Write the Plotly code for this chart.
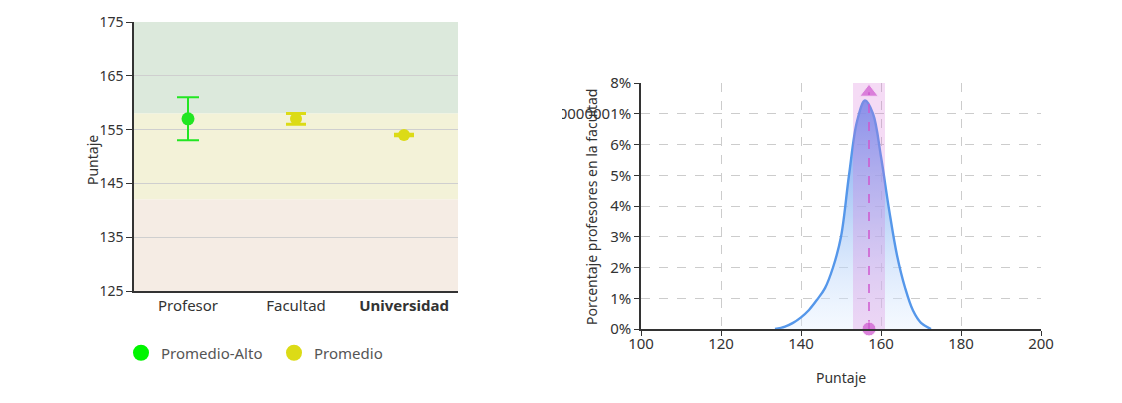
import plotly.graph_objects as go

# ---- datos panel izquierdo ----
cat_alto = ['Profesor']
val_alto = [157]
err_alto_sup = [4]
err_alto_inf = [4]

cat_prom = ['Facultad', 'Universidad']
val_prom = [157, 154]
err_prom_sup = [1, 0.15]
err_prom_inf = [1, 0.15]

categorias = ['Profesor', 'Facultad', 'Universidad']
bandas_y0 = [158, 142, 125]
bandas_y1 = [175, 158, 142]
bandas_color = ['#dce9dc', '#f3f2d8', '#f5ece4']

# ---- datos panel derecho ----
puntaje = [133.5, 136, 138, 140, 142, 144, 146, 148, 150, 152, 154, 156,
           158, 160, 162, 164, 166, 168, 170, 172.5]
porcentaje = [0, 0.08, 0.2, 0.38, 0.62, 0.95, 1.33, 2.0, 3.0, 5.0, 6.75, 7.43,
              7.0, 5.6, 3.9, 2.4, 1.35, 0.6, 0.2, 0]
intervalo = [153, 161]
prof_x = [157, 157]
prof_y = [0, 7.7]
y_ticks = [0, 1, 2, 3, 4, 5, 6, 7, 8]
y_ticktext = ['0%', '1%', '2%', '3%', '4%', '5%', '6%', '7.000000000000001%', '8%']

# la pagina tiene 8px de margen, se descuenta
OFF = 8
W, H = 1122 - 2 * OFF, 403 - 2 * OFF


def px(x):
    return (x - OFF) / W


def py(y):
    return 1 - (y - OFF) / H


verde = '#22e622'
amarillo = '#dcdb16'
magenta = '#cc4fcc'
fuente = 'Noto Sans'

fig = go.Figure()

fig.add_trace(go.Scatter(
    x=cat_alto, y=val_alto, mode='markers', showlegend=False,
    marker=dict(color=verde, size=13),
    error_y=dict(type='data', symmetric=False, array=err_alto_sup,
                 arrayminus=err_alto_inf, color=verde, thickness=2, width=11),
    xaxis='x', yaxis='y'))
fig.add_trace(go.Scatter(
    x=cat_prom, y=val_prom, mode='markers', showlegend=False,
    marker=dict(color=amarillo, size=12),
    error_y=dict(type='data', symmetric=False, array=err_prom_sup,
                 arrayminus=err_prom_inf, color=amarillo, thickness=3, width=10),
    xaxis='x', yaxis='y'))
# entradas de leyenda
fig.add_trace(go.Scatter(x=[None], y=[None], mode='markers', name='Promedio-Alto',
                         marker=dict(color='#00f500', size=17), xaxis='x', yaxis='y'))
fig.add_trace(go.Scatter(x=[None], y=[None], mode='markers', name='Promedio',
                         marker=dict(color=amarillo, size=17), xaxis='x', yaxis='y'))

# curva de densidad
fig.add_trace(go.Scatter(
    x=puntaje, y=porcentaje, mode='lines', showlegend=False,
    line=dict(color='#5597ea', width=2.4, shape='spline', smoothing=1.0),
    fill='tozeroy',
    fillgradient=dict(type='vertical',
                      colorscale=[[0, 'rgba(225,238,255,0.35)'],
                                  [0.5, 'rgba(160,195,245,0.7)'],
                                  [1, 'rgba(95,145,238,0.9)']]),
    xaxis='x2', yaxis='y2'))
fig.add_trace(go.Scatter(
    x=prof_x, y=prof_y, mode='lines+markers', showlegend=False,
    line=dict(color=magenta, width=1.5, dash='dash'),
    marker=dict(color=magenta, size=[14, 16], symbol=['circle', 'triangle-up']),
    cliponaxis=False,
    xaxis='x2', yaxis='y2'))

shapes = []
for y0, y1, c in zip(bandas_y0, bandas_y1, bandas_color):
    shapes.append(dict(type='rect', xref='x domain', yref='y', x0=0, x1=1,
                       y0=y0, y1=y1, fillcolor=c, line_width=0, layer='below'))
shapes.append(dict(type='rect', xref='x2', yref='y2 domain', x0=intervalo[0],
                   x1=intervalo[1], y0=0, y1=1, fillcolor='rgba(215,110,215,0.25)',
                   line_width=0, layer='above'))
# recorte de la etiqueta desbordada
shapes.append(dict(type='rect', xref='paper', yref='paper', x0=px(470), x1=px(562),
                   y0=py(130), y1=py(100), fillcolor='white', line_width=0,
                   layer='above'))

eje = dict(color='#333', size=14, family=fuente)
eje15 = dict(color='#333', size=15, family=fuente)

fig.update_layout(
    width=W, height=H,
    margin=dict(l=0, r=0, t=0, b=0, autoexpand=False),
    plot_bgcolor='white', paper_bgcolor='white',
    font=dict(family=fuente, color='#333', size=14),
    shapes=shapes,
    xaxis=dict(domain=[px(134), px(458)], type='category',
               categoryarray=categorias, range=[-0.5, 2.5],
               tickvals=categorias,
               ticktext=['Profesor', 'Facultad', '<b>Universidad</b>'],
               showline=True, linecolor='#333', linewidth=1.5,
               showgrid=False, ticks='', tickfont=eje15, fixedrange=True),
    yaxis=dict(domain=[py(291), py(22)], range=[125, 175], dtick=10,
               tick0=125, showline=True, linecolor='#333', linewidth=1.5,
               ticks='outside', ticklen=6, tickcolor='#333',
               showgrid=True, gridcolor='#cfcfcf', gridwidth=1,
               zeroline=False, tickfont=eje),
    xaxis2=dict(domain=[px(641), px(1041)], range=[100, 200], dtick=20,
                anchor='y2', showline=True, linecolor='#333', linewidth=1.5,
                ticks='outside', ticklen=5, tickcolor='#333',
                showgrid=True, gridcolor='#cccccc', griddash='dash',
                zeroline=False, tickfont=eje15, ticklabelstandoff=-5),
    yaxis2=dict(domain=[py(329), py(83)], range=[0, 8],
                anchor='x2', tickvals=y_ticks, ticktext=y_ticktext,
                showline=True, linecolor='#333', linewidth=1.5,
                ticks='outside', ticklen=5, tickcolor='#333',
                showgrid=True, gridcolor='#cccccc', griddash='dash',
                zeroline=False, tickfont=eje15),
    legend=dict(orientation='h', x=px(121), xanchor='left', y=py(353),
                yanchor='middle', font=dict(size=15, color='#555', family=fuente),
                entrywidth=108, entrywidthmode='pixels',
                itemclick=False, bgcolor='rgba(0,0,0,0)'),
    annotations=[
        dict(text='Puntaje', xref='paper', yref='paper', x=px(93), y=py(160),
             xanchor='center', yanchor='middle',
             textangle=-90, showarrow=False, font=dict(size=14, color='#333')),
        dict(text='Porcentaje profesores en la facultad', xref='paper', yref='paper',
             x=px(591), y=py(207), xanchor='center', yanchor='middle',
             textangle=-90, showarrow=False, font=dict(size=14, color='#333')),
        dict(text='Puntaje', xref='paper', yref='paper', x=px(841), y=py(377),
             xanchor='center', yanchor='middle',
             showarrow=False, font=dict(size=14, color='#333')),
    ],
)

fig.write_html('out.html')
